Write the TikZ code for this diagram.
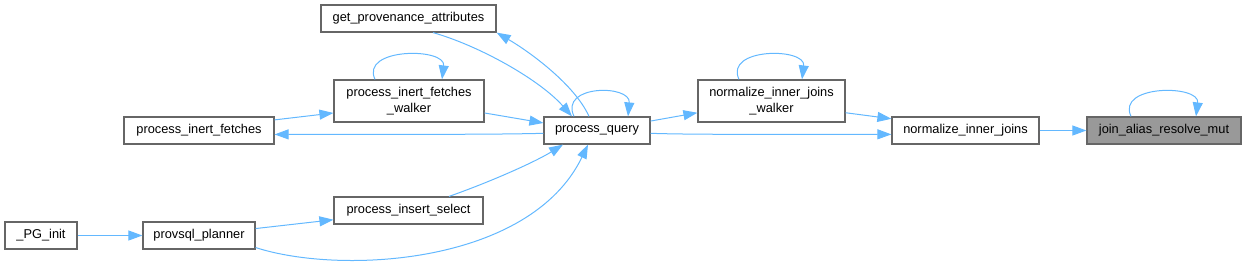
\documentclass[tikz,border=0pt]{standalone}
\usepackage{fontspec}
\setmainfont{Liberation Sans}
\usepackage{tikz}
\usetikzlibrary{arrows.meta,calc}
\definecolor{callblue}{RGB}{99,184,255}
\definecolor{boxgray}{RGB}{102,102,102}
\definecolor{markgray}{RGB}{153,153,153}

\begin{document}
\begin{tikzpicture}[x=0.75pt,y=-0.75pt,
 fn/.style={draw=boxgray,line width=0.9pt,fill=white,inner sep=0pt,align=center,
  font=\fontsize{9.6}{11.5}\selectfont,minimum height=20.25pt},
 fntwo/.style={fn,minimum height=31.5pt},
 cur/.style={fn,fill=markgray},
 call/.style={callblue,line width=0.75pt,-{Triangle[length=10.5pt,width=7.5pt]}}]
\useasboundingbox (0,0) rectangle (1246,265);
\node[fn,minimum width=131.25pt] (getprov) at (408.5,18.5) {get\_provenance\_attributes};
\node[fntwo,minimum width=112.5pt] (ifwalker) at (409,101) {process\_inert\_fetches\\\_walker};
\node[fn,minimum width=112.5pt] (inertf) at (199,130.5) {process\_inert\_fetches};
\node[fn,minimum width=111.75pt] (insel) at (408.5,210.5) {process\_insert\_select};
\node[fn,minimum width=54pt] (pginit) at (41,235.5) {\_PG\_init};
\node[fn,minimum width=84pt] (planner) at (199,235.5) {provsql\_planner};
\node[fn,minimum width=79.5pt] (query) at (597,130.5) {process\_query};
\node[fntwo,minimum width=110.25pt] (njwalker) at (771.5,101) {normalize\_inner\_joins\\\_walker};
\node[fn,minimum width=110.25pt] (nj) at (965.5,130.5) {normalize\_inner\_joins};
\node[cur,minimum width=115.5pt] (jarm) at (1164,130.5) {join\_alias\_resolve\_mut};
\draw[call] (nj) -- (jarm);
\draw[call] ($(jarm.north)+(-33,0)$) .. controls +(-15,-32) and +(4,-32) .. ($(jarm.north)+(32,0)$);
\draw[call] (njwalker.-9) -- (nj.171);
\draw[call] (query.-3) .. controls (700,135) and (800,134) .. (nj.-177);
\draw[call] ($(njwalker.north)+(-32.5,0)$) .. controls +(-15,-32) and +(4,-32) .. ($(njwalker.north)+(30.5,0)$);
\draw[call] (query.10) -- (njwalker.-171);
\draw[call] ($(query.north)+(-23,0)$) .. controls +(-15,-32) and +(3,-32) .. ($(query.north)+(31,0)$);
\draw[call] ($(query.north)+(-8,0)$) .. controls (575,85) and (530,52) .. (getprov.south east);
\draw[call] ($(getprov.south)+(24.5,0)$) .. controls (480,46) and (540,80) .. ($(query.north)+(-25,0)$);
\draw[call] (ifwalker.-9) -- (query.172);
\draw[call] ($(ifwalker.north)+(-34,0)$) .. controls +(-15,-32) and +(4,-32) .. ($(ifwalker.north)+(33,0)$);
\draw[call] (inertf.8) -- (ifwalker.-171);
\draw[call] (query.-177) .. controls (480,135) and (350,134) .. (inertf.-3);
\draw[call] ($(insel.north)+(40.5,0)$) .. controls (490,182) and (535,162) .. ($(query.south)+(-34,0)$);
\draw[call] (planner.-12) .. controls (340,275) and (530,265) .. ($(query.south)+(-9,0)$);
\draw[call] (planner.7) -- (insel.-173);
\draw[call] (pginit) -- (planner);
\end{tikzpicture}
\end{document}
